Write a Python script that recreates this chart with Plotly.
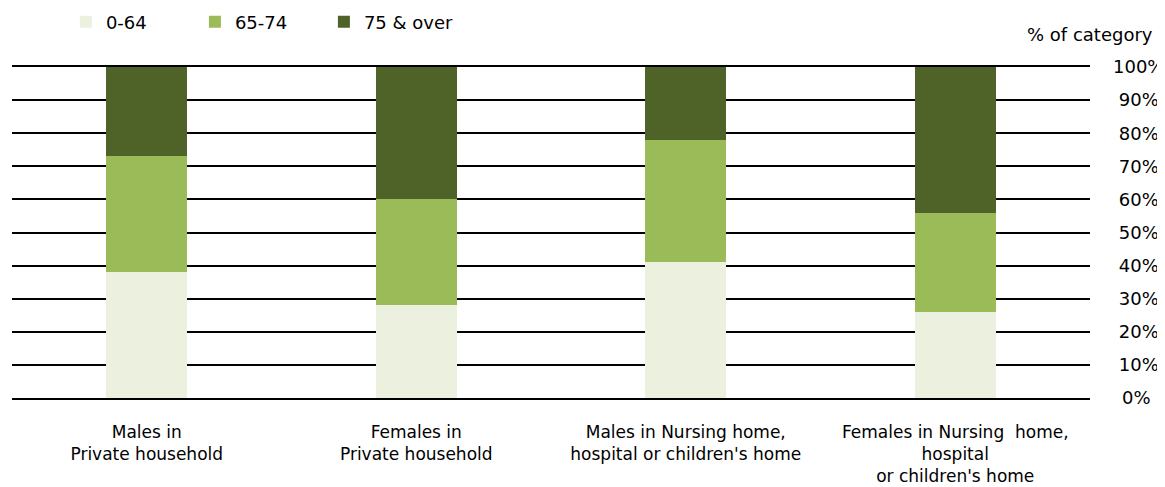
import plotly.graph_objects as go

categories = [
    "Males in<br>Private household",
    "Females in<br>Private household",
    "Males in Nursing home,<br>hospital or children's home",
    "Females in Nursing  home,<br>hospital<br>or children's home",
]
age_0_64 = [38, 28, 41, 26]
age_65_74 = [35, 32, 37, 30]
age_75_over = [27, 40, 22, 44]
tick_vals = [0, 10, 20, 30, 40, 50, 60, 70, 80, 90, 100]
tick_text = [("\u2002" if v < 10 else "\u00a0" if v < 100 else "") + f"{v}%" for v in tick_vals]

FONT = "DejaVu Sans, Liberation Sans, Arial, sans-serif"
FS = 18

fig = go.Figure()
for name, vals, color in [
    ("0-64", age_0_64, "#EBF1DE"),
    ("65-74", age_65_74, "#9BBB59"),
    ("75 & over", age_75_over, "#4F6228"),
]:
    fig.add_trace(go.Bar(x=categories, y=vals, name=name,
                         marker=dict(color=color, line=dict(width=0))))

# page body has an 8px margin, so the figure is sized/offset to compensate
fig.update_layout(
    barmode="stack",
    bargap=0.7,
    width=1157, height=479,
    margin=dict(l=4, r=75, t=59, b=89, autoexpand=False),
    paper_bgcolor="white", plot_bgcolor="white",
    font=dict(family=FONT, size=FS, color="#000000"),
    legend=dict(orientation="h", x=0.05, xanchor="left", y=1.136, yanchor="middle",
                font=dict(size=FS), traceorder="normal", itemwidth=30,
                entrywidth=84, entrywidthmode="pixels",
                bgcolor="rgba(0,0,0,0)"),
    xaxis=dict(showgrid=False, showline=True, mirror=True, linecolor="#000000",
               linewidth=1.5, layer="below traces", ticks="", tickfont=dict(size=17),
               ticklabelstandoff=18),
    yaxis=dict(side="right", range=[0, 100], tickvals=tick_vals, ticktext=tick_text,
               showgrid=True, gridcolor="#000000", gridwidth=1.5, zeroline=False,
               showline=False, ticks="", ticklabelstandoff=22, tickfont=dict(size=FS),
               layer="below traces"),
    annotations=[dict(text="% of category", xref="paper", yref="paper", x=1.0, y=1.0,
                      yshift=33, xanchor="center", yanchor="middle", showarrow=False,
                      font=dict(size=FS))],
)

fig.write_html("out.html")
